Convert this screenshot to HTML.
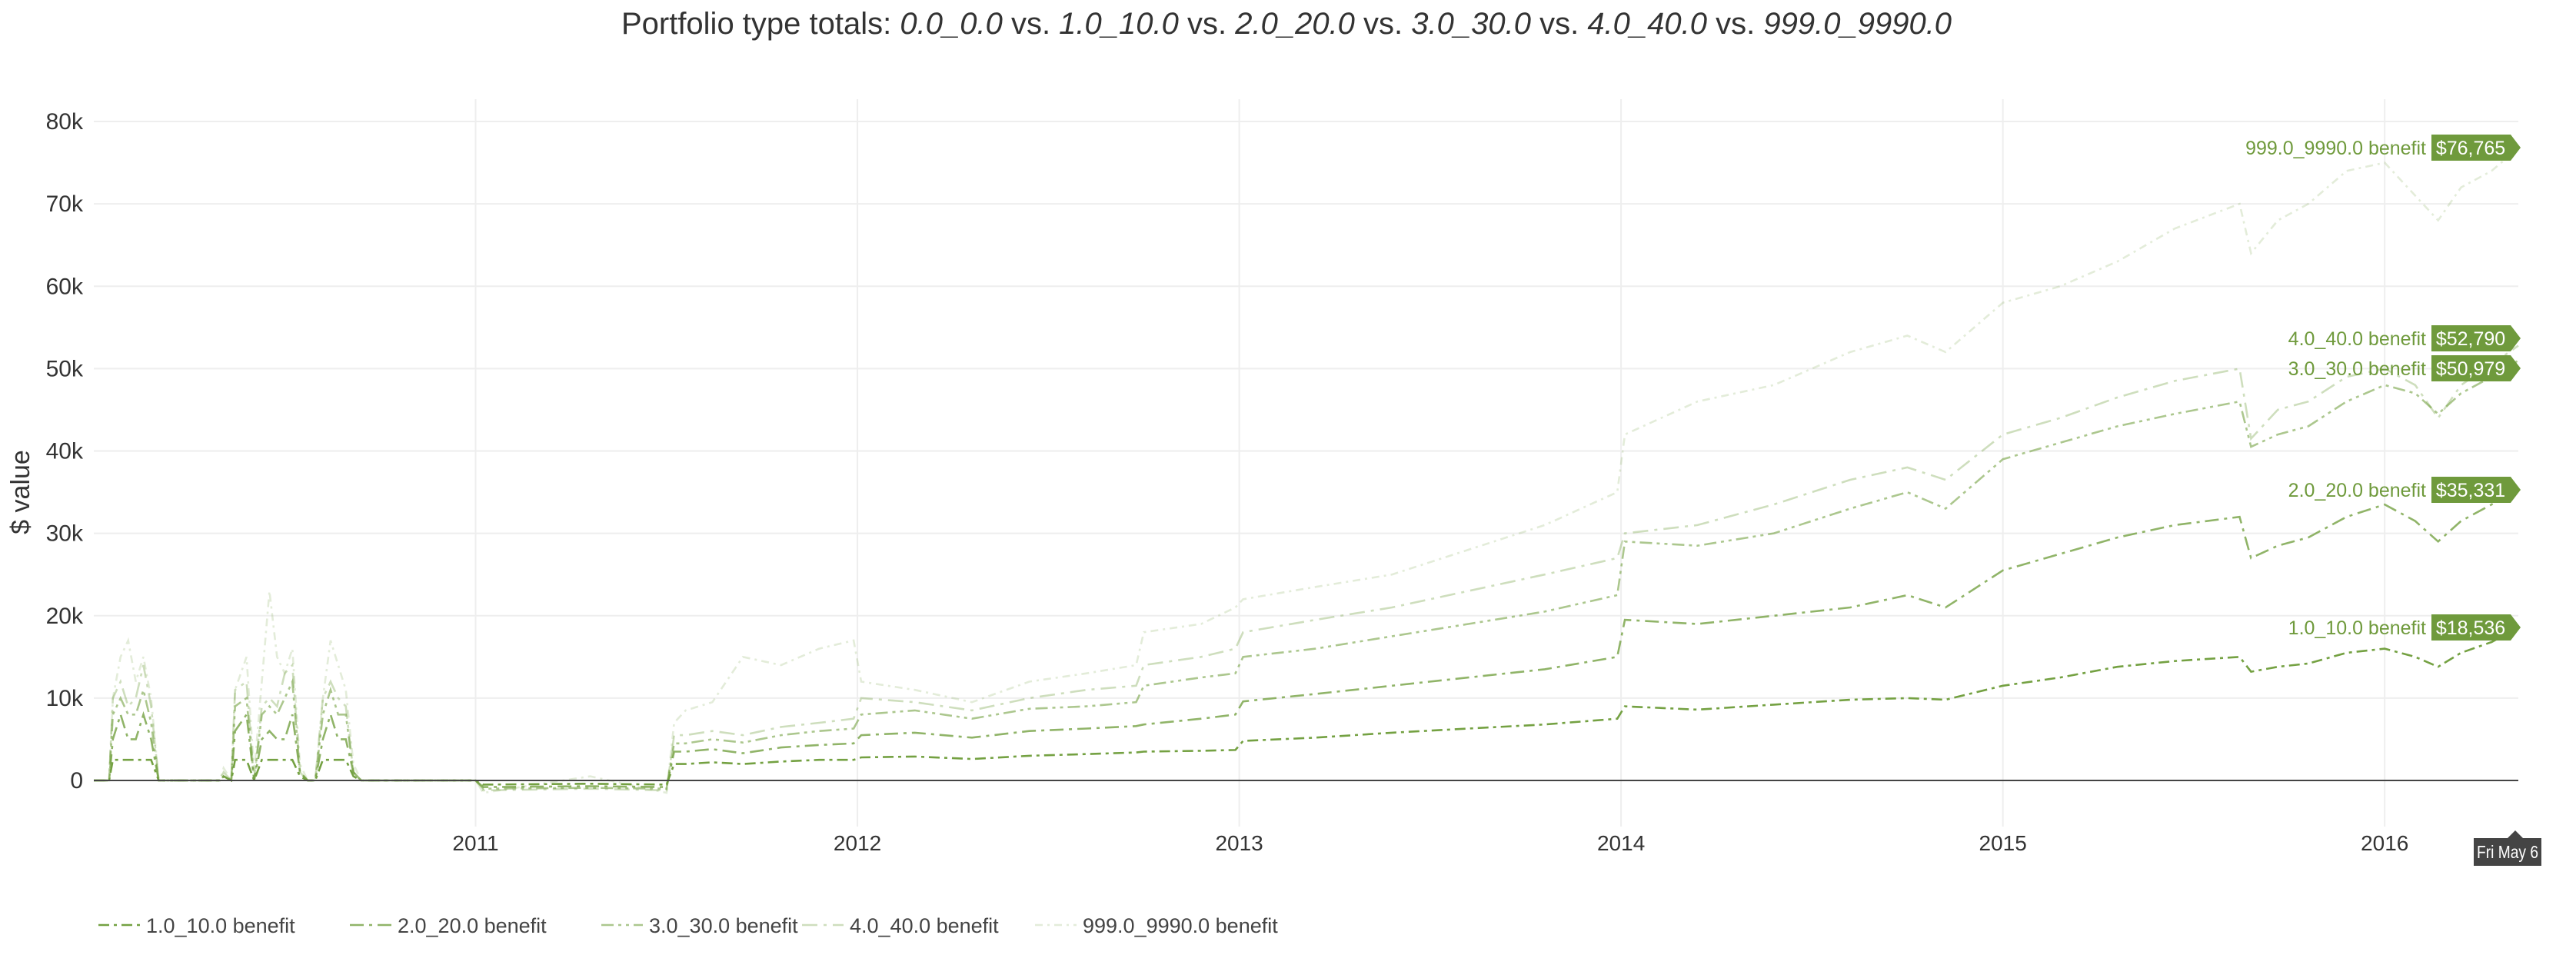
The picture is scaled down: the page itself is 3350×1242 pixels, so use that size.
<!DOCTYPE html>
<html><head><meta charset="utf-8"><style>
body{margin:0;background:#fff;}
svg{display:block;font-family:"Liberation Sans",sans-serif;}
</style></head><body>
<svg id="chart" width="3350" height="1242" viewBox="0 0 3350 1242">
<text x="1673" y="44" font-size="40" fill="#333" text-anchor="middle">Portfolio type totals: <tspan font-style="italic">0.0_0.0</tspan> vs. <tspan font-style="italic">1.0_10.0</tspan> vs. <tspan font-style="italic">2.0_20.0</tspan> vs. <tspan font-style="italic">3.0_30.0</tspan> vs. <tspan font-style="italic">4.0_40.0</tspan> vs. <tspan font-style="italic">999.0_9990.0</tspan></text>
<g id="grid"></g>
<g id="series"></g>
<g id="axes"></g>
<g id="labels"></g>
<text transform="translate(38,640) rotate(-90)" font-size="34" fill="#333" text-anchor="middle">$ value</text>
<g id="legend"></g>
<g>
<path d="M3217,1090 L3261,1090 L3271,1080 L3281,1090 L3305,1090 L3305,1126 L3217,1126 Z" fill="#444"/>
<text x="3261" y="1116" font-size="23" fill="#fff" text-anchor="middle" textLength="80" lengthAdjust="spacingAndGlyphs">Fri May  6</text>
</g>
</svg>
<script>
const years = [2011,2012,2013,2014,2015,2016];
const yTicks = [0,10000,20000,30000,40000,50000,60000,70000,80000];
const yTickLabels = ["0","10k","20k","30k","40k","50k","60k","70k","80k"];
const seriesNames = ["1.0_10.0 benefit","2.0_20.0 benefit","3.0_30.0 benefit","4.0_40.0 benefit","999.0_9990.0 benefit"];
const lastValueLabels = ["$18,536","$35,331","$50,979","$52,790","$76,765"];
const dates = [2010.00,2010.04,2010.05,2010.07,2010.09,2010.11,2010.13,2010.15,2010.17,2010.33,2010.34,2010.36,2010.37,2010.40,2010.42,2010.44,2010.46,2010.48,2010.50,2010.52,2010.54,2010.56,2010.58,2010.60,2010.62,2010.64,2010.66,2010.68,2010.70,2011.00,2011.02,2011.30,2011.50,2011.52,2011.55,2011.62,2011.70,2011.80,2011.90,2011.99,2012.01,2012.15,2012.30,2012.45,2012.60,2012.73,2012.75,2012.90,2012.99,2013.01,2013.20,2013.40,2013.60,2013.80,2013.99,2014.01,2014.20,2014.40,2014.60,2014.75,2014.85,2015.00,2015.15,2015.30,2015.45,2015.62,2015.65,2015.72,2015.80,2015.90,2016.00,2016.08,2016.14,2016.20,2016.28,2016.35];
const s1 = [0,0,2.5,2.5,2.5,2.5,2.5,2.5,0,0,0.5,0,2.5,2.5,0,2.5,2.5,2.5,2.5,2.5,0.5,0,0,2.5,2.5,2.5,2.5,0.5,0,0,-0.5,-0.4,-0.5,2,2,2.2,2.0,2.3,2.5,2.5,2.8,2.9,2.6,3.0,3.2,3.4,3.5,3.6,3.7,4.8,5.2,5.8,6.3,6.8,7.5,9.0,8.6,9.2,9.8,10.0,9.8,11.5,12.5,13.8,14.5,15.0,13.2,13.8,14.2,15.5,16.0,15.0,13.8,15.5,16.8,18.536];
const s2 = [0,0,5,8,5,5,8,5,0,0,0.5,0,6,8,0,5,6,5,5,8,1,0,0,5,8,5,5,1,0,0,-0.8,-0.7,-0.8,3.5,3.5,3.8,3.3,4.0,4.3,4.5,5.5,5.8,5.2,6.0,6.3,6.6,6.8,7.5,8.0,9.6,10.5,11.5,12.5,13.5,15.0,19.5,19.0,20.0,21.0,22.5,21.0,25.5,27.5,29.5,31.0,32.0,27.0,28.5,29.5,32.0,33.5,31.5,29.0,31.5,33.5,35.331];
const s3 = [0,0,8,10,8,8,11,7,0,0,0.5,0,9,10,0,8,9,8,10,12,1,0,0,8,11,8,8,1,0,0,-1.0,-0.9,-1.0,4.5,4.5,5.0,4.6,5.5,6.0,6.3,8.0,8.5,7.5,8.7,9.0,9.5,11.5,12.5,13.0,15.0,16.0,17.5,19.0,20.5,22.5,29.0,28.5,30.0,33.0,35.0,33.0,39.0,41.0,43.0,44.5,46.0,40.5,42.0,43.0,46.0,48.0,47.0,44.5,47.0,49.0,50.979];
const s4 = [0,0,10,12,9,10,14,9,0,0,1,0,11,12,0,9,10,9,13,14,1,0,0,10,12,10,9,1,0,0,-1.2,-1.0,-1.2,5.5,5.5,6.0,5.5,6.5,7.0,7.5,10.0,9.5,8.5,10.0,11.0,11.5,14.0,15.0,16.0,18.0,19.5,21.0,23.0,25.0,27.0,30.0,31.0,33.5,36.5,38.0,36.5,42.0,44.0,46.5,48.5,50.0,41.5,45.0,46.0,49.0,50.0,48.0,44.0,48.0,50.5,52.79];
const s5 = [0,0,10,15,17,12,15,10,0,0,1.5,0,11,15,1,12,23,15,13,16,2,0,0,10,17,14,11,2,0,0,-1.5,0.5,-1.5,7,8.5,9.5,15,14,16,17,12,11,9.5,12,13,14,18,19,21,22,23.5,25,28,31,35,42,46,48,52,54,52,58,60,63,67,70,64,68,70,74,75,71,68,72,74,76.765];

const NS="http://www.w3.org/2000/svg";
const X0=122,X1=3275,Y0=1015,Y80=158,TOP=129;
const T0=2010.0,T1=2016.35;
function xs(t){return X0+(t-T0)/(T1-T0)*(X1-X0);}
function ys(v){return Y0-(v/80000)*(Y0-Y80);}
function mk(tag,attrs,parent){const e=document.createElementNS(NS,tag);for(const k in attrs)e.setAttribute(k,attrs[k]);parent.appendChild(e);return e;}
const grid=document.getElementById('grid'),axes=document.getElementById('axes');
yTicks.forEach((v,i)=>{
  if(v>0){const l=mk('line',{x1:X0,x2:X1,y1:ys(v),y2:ys(v),stroke:'#eee','stroke-width':2},grid);
  
  }
  const t=mk('text',{x:X0-14,y:ys(v)+10,'font-size':30,fill:'#333','text-anchor':'end'},axes);
  t.textContent=yTickLabels[i];
  
  
});
years.forEach(yr=>{
  const l=mk('line',{x1:xs(yr),x2:xs(yr),y1:TOP,y2:1075,stroke:'#eee','stroke-width':2},grid);
  
  
  const t=mk('text',{x:xs(yr),y:1106,'font-size':28,fill:'#333','text-anchor':'middle'},axes);
  t.textContent=String(yr);
  
  
});
const zl=mk('line',{x1:X0,x2:X1,y1:Y0,y2:Y0,stroke:'#444','stroke-width':2},axes);



const allSeries=[s1,s2,s3,s4,s5];
const opac=[1,0.8,0.6,0.35,0.2];
const dashes=["14,6,4,6","18,7,4,7","16,6,4,6,4,6","20,8,4,8","10,6,3,6"];
const color="#74a142";
const sg=document.getElementById('series');
allSeries.slice().reverse().forEach((s,ri)=>{
  const i=allSeries.length-1-ri;
  const d=s.map((v,j)=>(j?'L':'M')+xs(dates[j]).toFixed(1)+','+ys(v*1000).toFixed(1)).join(' ');
  const p=mk('path',{d:d,fill:'none',stroke:color,'stroke-opacity':opac[i],'stroke-width':2.6,'stroke-dasharray':dashes[i]},sg);
  
  
});
const labY=[816,637,479,440,192];
const lg=document.getElementById('labels');
labY.forEach((y,i)=>{
  const g=mk('g',{},lg);
  
  
  const t=mk('text',{x:3155,y:y+9,'font-size':25,fill:'#6f9a3c','text-anchor':'end'},g);
  t.textContent=seriesNames[i];
  mk('path',{d:`M3162,${y-17} L3265,${y-17} L3278,${y} L3265,${y+17} L3162,${y+17} Z`,fill:'#6f9a3c'},g);
  const v=mk('text',{x:3213,y:y+9,'font-size':25,fill:'#fff','text-anchor':'middle'},g);
  v.textContent=lastValueLabels[i];
});
const legX=[128,455,782,1043,1346];
const leg=document.getElementById('legend');
seriesNames.forEach((n,i)=>{
  const g=mk('g',{},leg);
  
  
  mk('line',{x1:legX[i],x2:legX[i]+54,y1:1203,y2:1203,stroke:color,'stroke-opacity':opac[i],'stroke-width':2.6,'stroke-dasharray':dashes[i]},g);
  const t=mk('text',{x:legX[i]+62,y:1213,'font-size':27,fill:'#444'},g);
  t.textContent=n;
});
</script>
</body></html>
